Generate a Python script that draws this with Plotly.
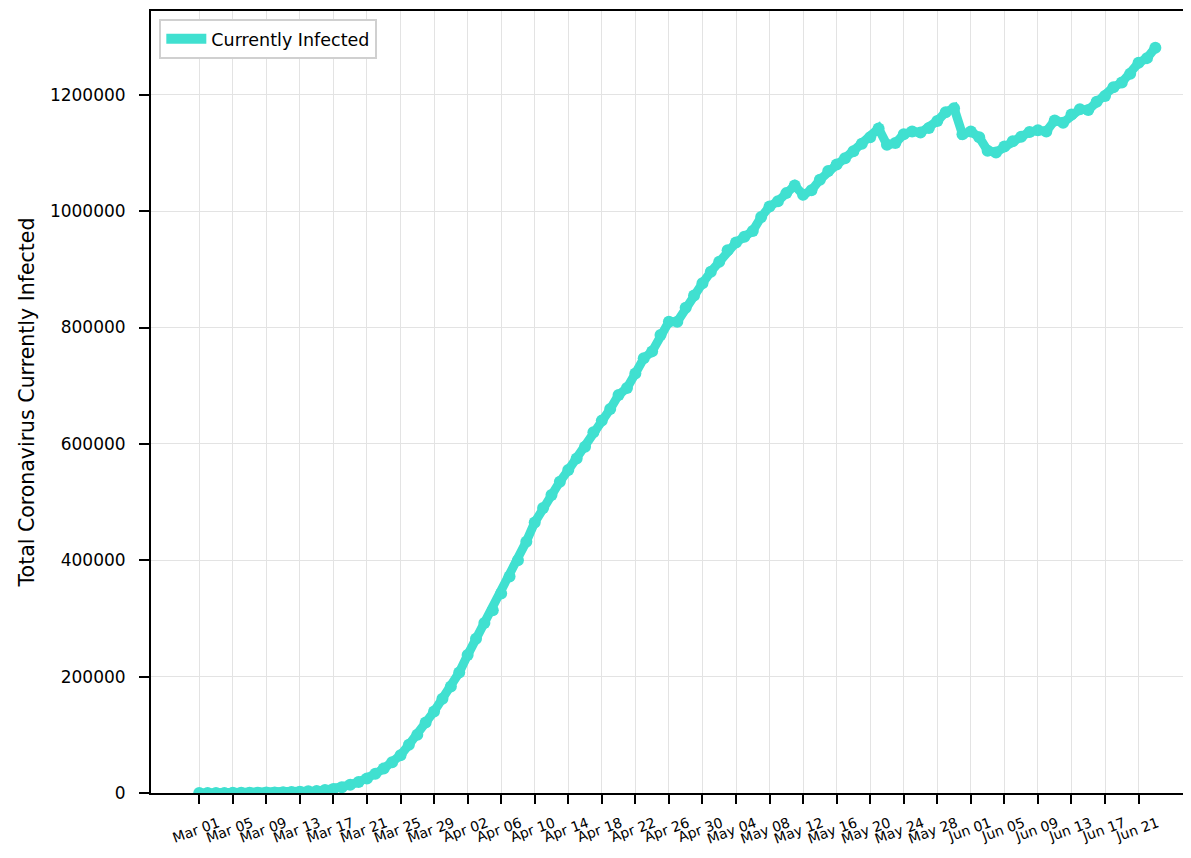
import datetime as dt
import plotly.graph_objects as go

start = dt.date(2020, 3, 1)
currently_infected = [
    100, 100, 150, 200, 250, 350, 450, 550, 700, 950,
    1300, 1700, 2200, 2900, 3500, 5000, 7000, 10000, 14000, 19000,
    25000, 33000, 42000, 53000, 65000, 83000, 100000, 121000, 140000, 162000,
    183000, 207000, 237000, 265000, 292000, 314000, 343000, 372000, 400000, 432000,
    465000, 490000, 512000, 535000, 555000, 575000, 595000, 620000, 640000, 660000,
    684000, 696000, 721000, 747000, 759000, 787000, 810000, 810000, 834000, 855000,
    876000, 896000, 913000, 933000, 946000, 956000, 966000, 990000, 1008000, 1017000,
    1031000, 1044000, 1028000, 1036000, 1054000, 1069000, 1080000, 1091000, 1103000, 1116000,
    1127000, 1142000, 1114000, 1117000, 1132000, 1137000, 1135000, 1143000, 1155000, 1170000,
    1177000, 1132000, 1137000, 1127000, 1104000, 1101000, 1111000, 1120000, 1128000, 1136000,
    1139000, 1137000, 1156000, 1152000, 1166000, 1175000, 1174000, 1188000, 1198000, 1213000,
    1221000, 1236000, 1255000, 1263000, 1281000,
]
dates = [start + dt.timedelta(days=i) for i in range(len(currently_infected))]
tick_dates = [start + dt.timedelta(days=4 * i) for i in range(29)]
tick_labels = [d.strftime("%b %d") for d in tick_dates]
y_ticks = [0, 200000, 400000, 600000, 800000, 1000000, 1200000]

color = "#40E0D0"
fig = go.Figure()
fig.add_trace(go.Scatter(
    x=dates, y=currently_infected, mode="lines+markers",
    line=dict(color=color, width=9), marker=dict(color=color, size=12),
    showlegend=False, name="Currently Infected",
))
fig.add_trace(go.Scatter(
    x=[None], y=[None], mode="lines", line=dict(color=color, width=14),
    name="Currently Infected", showlegend=True,
))

fig.update_layout(
    width=1183, height=842,
    margin=dict(l=143, r=0, t=3, b=57, autoexpand=False),
    paper_bgcolor="white", plot_bgcolor="white",
    font=dict(family="DejaVu Sans", color="black"),
    legend=dict(
        x=0.008, y=0.99, xanchor="left", yanchor="top",
        bgcolor="white", bordercolor="#d0d0d0", borderwidth=2,
        font=dict(size=17.5), itemwidth=40,
    ),
)
fig.update_xaxes(
    type="date", automargin=False,
    range=[dt.datetime(2020, 2, 24, 6), dt.datetime(2020, 6, 27, 6)],
    tickmode="array", tickvals=tick_dates, ticktext=tick_labels,
    tickangle=-20, tickfont=dict(size=14),
    ticks="outside", ticklen=9, tickwidth=2, tickcolor="black",
    showline=True, linecolor="black", linewidth=2, mirror=True,
    showgrid=True, gridcolor="#e3e3e3", gridwidth=1,
    zeroline=False, ticklabelshift=19, ticklabelstandoff=6,
)
fig.update_yaxes(
    automargin=False,
    range=[0, 1344000],
    tickmode="array", tickvals=y_ticks, ticktext=[str(v) for v in y_ticks],
    tickfont=dict(size=17),
    ticks="outside", ticklen=10, tickwidth=2, tickcolor="black",
    showline=True, linecolor="black", linewidth=2,
    showgrid=True, gridcolor="#e3e3e3", gridwidth=1,
    zeroline=False, ticklabelstandoff=10,
    title=dict(text="Total Coronavirus Currently Infected", font=dict(size=20.5), standoff=10),
)
fig.write_html("out.html")
